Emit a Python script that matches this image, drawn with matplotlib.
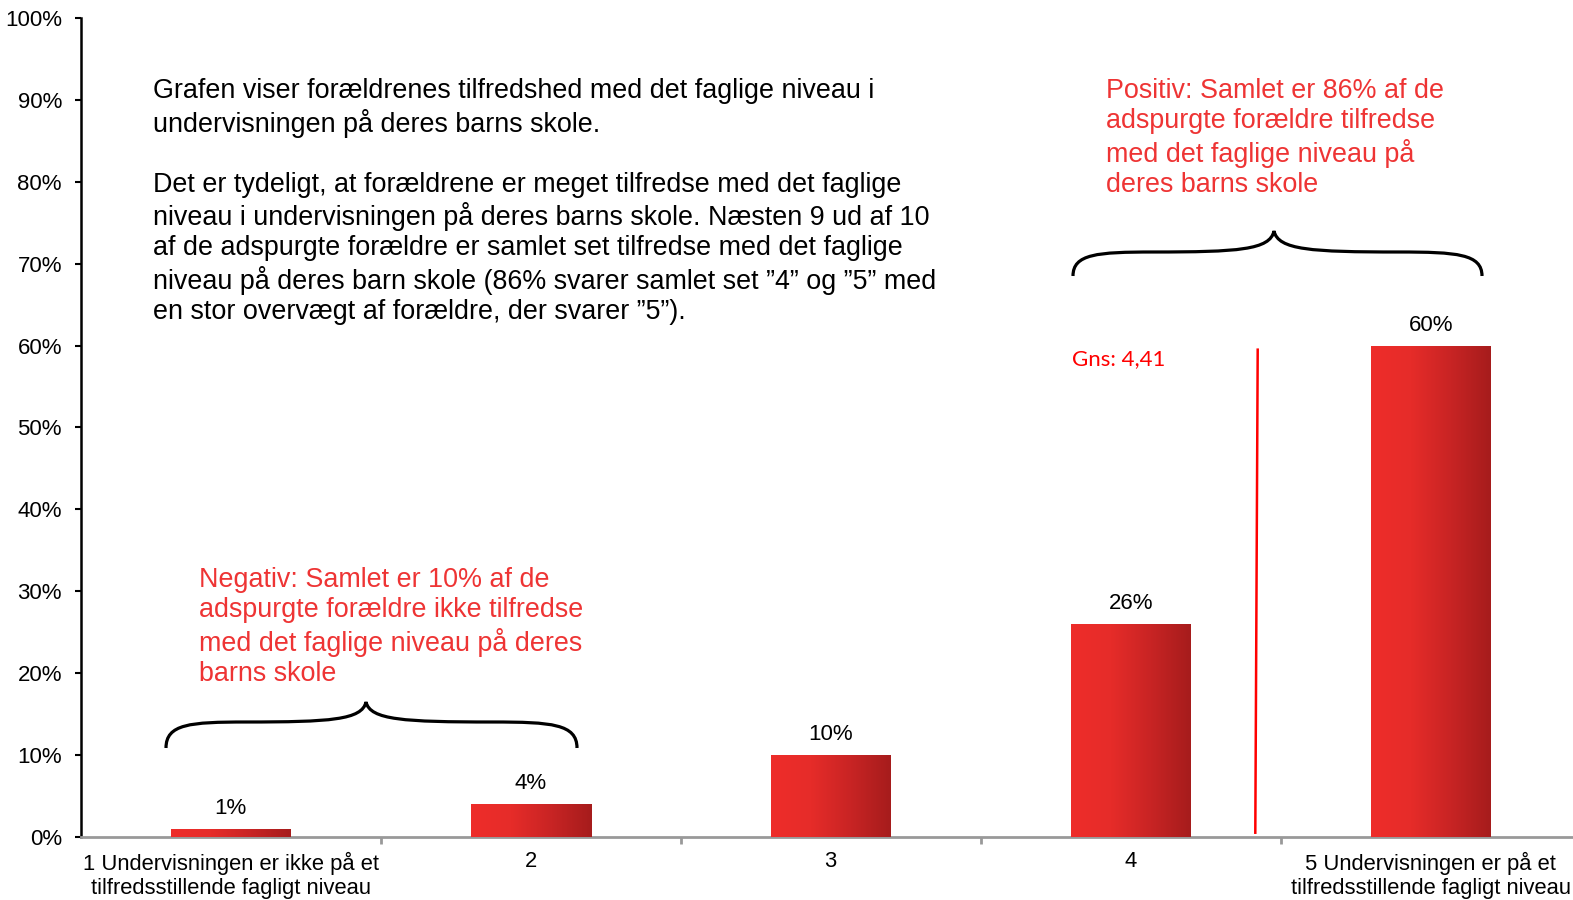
import numpy as np
import matplotlib
matplotlib.use("Agg")
import matplotlib.pyplot as plt
from matplotlib.colors import LinearSegmentedColormap
from matplotlib.path import Path
from matplotlib.patches import PathPatch
from matplotlib.transforms import IdentityTransform, ScaledTranslation

plt.rcParams['font.family'] = ['Liberation Sans', 'DejaVu Sans']

categories = ['1 Undervisningen er ikke på et\ntilfredsstillende fagligt niveau', '2', '3', '4',
              '5 Undervisningen er på et\ntilfredsstillende fagligt niveau']
values = [1, 4, 10, 26, 60]
value_labels = ['1%', '4%', '10%', '26%', '60%']
gns = 4.41
gns_label = 'Gns: 4,41'
gns_top = 59.5

main_text = ("Grafen viser forældrenes tilfredshed med det faglige niveau i\n"
             "undervisningen på deres barns skole.\n\n"
             "Det er tydeligt, at forældrene er meget tilfredse med det faglige\n"
             "niveau i undervisningen på deres barns skole. Næsten 9 ud af 10\n"
             "af de adspurgte forældre er samlet set tilfredse med det faglige\n"
             "niveau på deres barn skole (86% svarer samlet set ”4” og ”5” med\n"
             "en stor overvægt af forældre, der svarer ”5”).")
pos_text = ("Positiv: Samlet er 86% af de\nadspurgte forældre tilfredse\n"
            "med det faglige niveau på\nderes barns skole")
neg_text = ("Negativ: Samlet er 10% af de\nadspurgte forældre ikke tilfredse\n"
            "med det faglige niveau på deres\nbarns skole")

RED_TXT = '#EE3434'
W, H = 1573, 900

fig = plt.figure(figsize=(W / 100, H / 100), dpi=100)
ax = fig.add_axes([80.7 / W, 63.2 / H, 1500 / W, 818.7 / H])

x = np.arange(len(values))
bars = ax.bar(x, values, width=0.4, color='#D42826', zorder=2)

cmap = LinearSegmentedColormap.from_list('bar', ['#EE2D2A', '#E62C29', '#C82424', '#A61C1C'])
grad = np.linspace(0, 1, 256).reshape(1, -1)
for b in bars:
    im = ax.imshow(grad, cmap=cmap, aspect='auto', zorder=3,
                   extent=(b.get_x(), b.get_x() + b.get_width(), 0, b.get_height()))
    im.set_clip_path(b)

for xi, v, lab in zip(x, values, value_labels):
    ax.annotate(lab, (xi, v), xytext=(0, 7), textcoords='offset points',
                ha='center', va='bottom', fontsize=16)

# average line (nudged a few pixels right, as in the original slide)
shift = ax.transData + ScaledTranslation(4 / 100, 0, fig.dpi_scale_trans)
ax.plot([gns - 1 - 0.008, gns - 1], [0.5, gns_top], color='#FF0000', lw=1.8, zorder=4,
        transform=shift)

ax.set_xlim(-0.5, 4.5)
ax.set_ylim(0, 100)
ax.set_yticks(range(0, 101, 10))
ax.set_yticklabels([f'{t}%' for t in range(0, 101, 10)], fontsize=16)
ax.set_xticks(x)
ax.set_xticklabels(categories, fontsize=15.8, linespacing=1.2)
ax.set_xticks(np.arange(0.5, 4.5, 1), minor=True)
ax.tick_params(axis='x', which='major', length=0, pad=10.5)
ax.tick_params(axis='x', which='minor', length=5, width=2, color='#999999', direction='out')
ax.tick_params(axis='y', length=4.5, width=1.5, color='black', direction='out', pad=9)

for s in ['top', 'right']:
    ax.spines[s].set_visible(False)
ax.spines['left'].set_linewidth(1.8)
ax.spines['left'].set_color('black')
ax.spines['bottom'].set_linewidth(2)
ax.spines['bottom'].set_color('#999999')

# texts
fig.text(153 / W, 1 - 78 / H, main_text, fontsize=19.4, va='top', ha='left', linespacing=1.2)
fig.text(1106 / W, 1 - 78 / H, pos_text, fontsize=19.4, va='top', ha='left', color=RED_TXT, linespacing=1.2)
fig.text(199 / W, 1 - 567 / H, neg_text, fontsize=19.4, va='top', ha='left', color=RED_TXT, linespacing=1.2)
fig.text(1072 / W, 1 - 359 / H, gns_label, fontsize=16, va='center', ha='left', color='#FF0000',
         family=['Lato', 'DejaVu Sans'])


def brace(x0, x1, xm, yb, yf, yp):
    # curly brace in output pixel coordinates (y from top)
    wl = xm - x0
    wr = x1 - xm
    pts = [(x0, yb), (x0, yf + 2), (x0 + 0.12 * wl, yf), (x0 + 0.4 * wl, yf),
           (xm - 0.18 * wl, yf), (xm - 0.02 * wl, yf - 2), (xm, yp),
           (xm + 0.02 * wr, yf - 2), (xm + 0.18 * wr, yf), (x1 - 0.4 * wr, yf),
           (x1 - 0.12 * wr, yf), (x1, yf + 2), (x1, yb)]
    codes = [Path.MOVETO] + [Path.CURVE4] * 12
    verts = [(px, H - py) for px, py in pts]
    fig.add_artist(PathPatch(Path(verts, codes), fill=False, lw=2.3, color='black',
                             transform=IdentityTransform()))


brace(1073, 1482, 1274, 276, 252, 231)
brace(166, 577, 366, 748, 722, 702)

fig.savefig('out.png', dpi=100)
